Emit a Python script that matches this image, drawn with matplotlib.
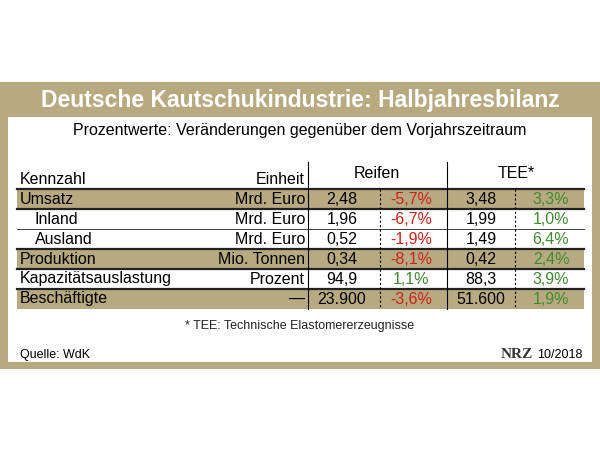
import matplotlib
matplotlib.use("Agg")
import matplotlib.pyplot as plt
from matplotlib.patches import Rectangle

title = "Deutsche Kautschukindustrie: Halbjahresbilanz"
subtitle = "Prozentwerte: Veränderungen gegenüber dem Vorjahrszeitraum"
kennzahl = ["Umsatz", "Inland", "Ausland", "Produktion", "Kapazitätsauslastung", "Beschäftigte"]
einheit = ["Mrd. Euro", "Mrd. Euro", "Mrd. Euro", "Mio. Tonnen", "Prozent", "—"]
reifen_val = ["2,48", "1,96", "0,52", "0,34", "94,9", "23.900"]
reifen_pct = [-5.7, -6.7, -1.9, -8.1, 1.1, -3.6]
tee_val = ["3,48", "1,99", "1,49", "0,42", "88,3", "51.600"]
tee_pct = [3.3, 1.0, 6.4, 2.4, 3.9, 1.9]
shaded = [True, False, False, True, False, True]
indent = [False, True, True, False, False, False]

GOLD = "#b8aa80"
RED = "#cc1f1a"
GREEN = "#3f8a2e"
FONT = "Liberation Sans"
FS = 11.5

fig = plt.figure(figsize=(6, 4.5), dpi=100)
ax = fig.add_axes([0, 0, 1, 1])
ax.set_xlim(0, 600); ax.set_ylim(450, 0); ax.axis("off")

def fmt(p):
    return f"{p:.1f}%".replace(".", ",")

ax.add_patch(Rectangle((0, 82), 600, 287, color=GOLD, lw=0))
ax.add_patch(Rectangle((8, 117), 584, 245, color="white", lw=0))
ax.text(300, 100, title, ha="center", va="center", color="white", fontsize=16.5, fontweight="bold", family=FONT)
ax.text(300, 131, subtitle, ha="center", va="center", fontsize=11.5, family=FONT, fontweight="medium")

ax.text(20, 180, "Kennzahl", ha="left", va="center", fontsize=FS, family=FONT)
ax.text(305, 180, "Einheit", ha="right", va="center", fontsize=FS, family=FONT)
ax.text(377, 173, "Reifen", ha="center", va="center", fontsize=FS, family=FONT)
ax.text(516, 173, "TEE*", ha="center", va="center", fontsize=FS, family=FONT)
ax.plot([308, 308], [162, 188], color="black", lw=0.8)
ax.plot([447, 447], [162, 188], color="black", lw=0.8)

top, rh = 189, 20
for i in range(len(kennzahl)):
    y0 = top + i * rh
    yc = y0 + rh / 2
    if shaded[i]:
        ax.add_patch(Rectangle((17, y0), 567, rh, color=GOLD, lw=0))
    x0 = 35 if indent[i] else 20
    ax.text(x0, yc, kennzahl[i], ha="left", va="center", fontsize=FS, family=FONT)
    ax.text(305, yc, einheit[i], ha="right", va="center", fontsize=FS, family=FONT)
    ax.text(342, yc, reifen_val[i], ha="center", va="center", fontsize=FS, family=FONT)
    ax.text(411, yc, fmt(reifen_pct[i]), ha="center", va="center", fontsize=FS, family=FONT,
            color=RED if reifen_pct[i] < 0 else GREEN)
    ax.text(481, yc, tee_val[i], ha="center", va="center", fontsize=FS, family=FONT)
    ax.text(551, yc, fmt(tee_pct[i]), ha="center", va="center", fontsize=FS, family=FONT,
            color=RED if tee_pct[i] < 0 else GREEN)
bottom = top + len(kennzahl) * rh
for i in range(len(kennzahl)):
    yl = top + i * rh
    ax.plot([17, 584], [yl, yl], color="#222222", lw=1.6 if i in (0, 1, 3, 4, 5) else 0.6)
ax.plot([308, 308], [top, bottom], color="black", lw=0.8)
ax.plot([447, 447], [top, bottom], color="black", lw=0.8)
ax.plot([380, 380], [top, bottom], color="black", lw=0.8, ls=(0, (2, 2)))
ax.plot([515, 515], [top, bottom], color="black", lw=0.8, ls=(0, (2, 2)))

ax.text(300, 326, "* TEE: Technische Elastomererzeugnisse", ha="center", va="center", fontsize=9, family=FONT, color="#222222")
ax.text(20, 355, "Quelle: WdK", ha="left", va="center", fontsize=9, family=FONT)
ax.text(533, 355, "NRZ", ha="right", va="center", fontsize=11, family="Liberation Serif", fontweight="bold", color="#333333")
ax.text(582, 355, "10/2018", ha="right", va="center", fontsize=9, family=FONT)

fig.savefig("out.png", dpi=100)
